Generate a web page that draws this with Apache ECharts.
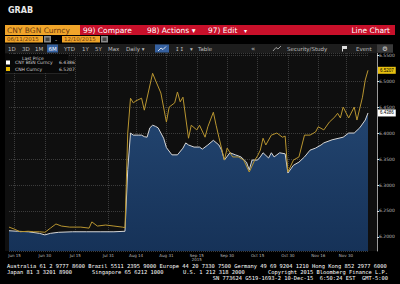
<!DOCTYPE html>
<html><head><meta charset="utf-8">
<script src="https://cdn.jsdelivr.net/npm/echarts@6/dist/echarts.min.js"></script>
<style>html,body{margin:0;padding:0;background:#000;}#c{width:400px;height:284px;}</style>
</head><body><div id="c"></div>
<script>
// Trading-day categories (Jun 11 - Dec 10, 2015)
const dates = ["Jun 11","Jun 12","Jun 15","Jun 16","Jun 17","Jun 18","Jun 19","Jun 22","Jun 23","Jun 24","Jun 25","Jun 26","Jun 29","Jun 30",
"Jul 1","Jul 2","Jul 3","Jul 6","Jul 7","Jul 8","Jul 9","Jul 10","Jul 13","Jul 14","Jul 15","Jul 16","Jul 17","Jul 20","Jul 21","Jul 22","Jul 23","Jul 24","Jul 27","Jul 28","Jul 29","Jul 30","Jul 31",
"Aug 3","Aug 4","Aug 5","Aug 6","Aug 7","Aug 10","Aug 11","Aug 12","Aug 13","Aug 14","Aug 17","Aug 18","Aug 19","Aug 20","Aug 21","Aug 24","Aug 25","Aug 26","Aug 27","Aug 28","Aug 31",
"Sep 1","Sep 2","Sep 3","Sep 4","Sep 7","Sep 8","Sep 9","Sep 10","Sep 11","Sep 14","Sep 15","Sep 16","Sep 17","Sep 18","Sep 21","Sep 22","Sep 23","Sep 24","Sep 25","Sep 28","Sep 29","Sep 30",
"Oct 1","Oct 2","Oct 5","Oct 6","Oct 7","Oct 8","Oct 9","Oct 12","Oct 13","Oct 14","Oct 15","Oct 16","Oct 19","Oct 20","Oct 21","Oct 22","Oct 23","Oct 26","Oct 27","Oct 28","Oct 29","Oct 30",
"Nov 2","Nov 3","Nov 4","Nov 5","Nov 6","Nov 9","Nov 10","Nov 11","Nov 12","Nov 13","Nov 16","Nov 17","Nov 18","Nov 19","Nov 20","Nov 23","Nov 24","Nov 25","Nov 26","Nov 27","Nov 30",
"Dec 1","Dec 2","Dec 3","Dec 4","Dec 7","Dec 8","Dec 9","Dec 10"];

const tickLabels = ["Jun 15","Jun 30","Jul 15","Jul 31","Aug 14","Aug 31","Sep 15","Sep 30","Oct 15","Oct 30","Nov 16","Nov 30"];
const yearLabel = "2015";

// CNY BGN Curncy (white line, blue area)
const cnyBgn = [["Jun 11",6.212],["Jun 16",6.211],["Jun 22",6.210],["Jun 26",6.207],["Jun 30",6.204],["Jul 2",6.207],["Jul 7",6.209],
["Jul 14",6.210],["Jul 21",6.210],["Jul 28",6.210],["Aug 4",6.210],["Aug 10",6.211],["Aug 11",6.330],["Aug 12",6.400],["Aug 13",6.396],
["Aug 14",6.396],["Aug 17",6.396],["Aug 18",6.396],["Aug 19",6.393],["Aug 20",6.392],["Aug 21",6.410],["Aug 24",6.415],["Aug 25",6.413],
["Aug 26",6.410],["Aug 27",6.400],["Aug 28",6.390],["Aug 31",6.372],["Sep 2",6.358],["Sep 4",6.358],["Sep 8",6.371],["Sep 9",6.381],
["Sep 10",6.377],["Sep 14",6.373],["Sep 16",6.373],["Sep 17",6.369],["Sep 21",6.377],["Sep 23",6.386],["Sep 25",6.377],["Sep 28",6.367],
["Sep 29",6.348],["Oct 1",6.362],["Oct 5",6.358],["Oct 7",6.354],["Oct 9",6.344],["Oct 12",6.329],["Oct 13",6.348],["Oct 15",6.348],
["Oct 16",6.354],["Oct 19",6.362],["Oct 21",6.352],["Oct 22",6.362],["Oct 23",6.354],["Oct 27",6.362],["Oct 29",6.360],["Oct 30",6.323],
["Nov 3",6.338],["Nov 5",6.344],["Nov 9",6.354],["Nov 11",6.367],["Nov 13",6.371],["Nov 17",6.377],["Nov 18",6.381],["Nov 23",6.387],
["Nov 27",6.392],["Dec 1",6.400],["Dec 3",6.400],["Dec 7",6.410],["Dec 9",6.425],["Dec 10",6.4386]];

// CNH Curncy (yellow line)
const cnh = [["Jun 11",6.219],["Jun 15",6.215],["Jun 17",6.210],["Jun 22",6.211],["Jun 24",6.210],["Jun 26",6.210],["Jun 30",6.209],
["Jul 2",6.217],["Jul 6",6.225],["Jul 8",6.221],["Jul 13",6.219],["Jul 17",6.219],["Jul 22",6.217],["Jul 23",6.229],["Jul 27",6.221],
["Jul 30",6.223],["Aug 4",6.221],["Aug 7",6.219],["Aug 10",6.218],["Aug 11",6.400],["Aug 12",6.467],["Aug 13",6.458],["Aug 14",6.462],
["Aug 18",6.467],["Aug 19",6.444],["Aug 24",6.515],["Aug 25",6.502],["Aug 27",6.477],["Aug 31",6.421],["Sep 1",6.450],["Sep 3",6.458],
["Sep 4",6.479],["Sep 7",6.460],["Sep 8",6.469],["Sep 10",6.390],["Sep 11",6.415],["Sep 15",6.406],["Sep 16",6.415],["Sep 18",6.392],
["Sep 21",6.412],["Sep 23",6.440],["Sep 24",6.415],["Sep 25",6.392],["Sep 29",6.348],["Sep 30",6.371],["Oct 2",6.354],["Oct 6",6.354],
["Oct 8",6.348],["Oct 12",6.325],["Oct 14",6.348],["Oct 15",6.356],["Oct 16",6.367],["Oct 19",6.390],["Oct 20",6.377],["Oct 22",6.396],
["Oct 26",6.400],["Oct 28",6.392],["Oct 29",6.394],["Oct 30",6.325],["Nov 3",6.348],["Nov 5",6.354],["Nov 9",6.396],["Nov 11",6.396],
["Nov 13",6.402],["Nov 16",6.412],["Nov 18",6.406],["Nov 20",6.421],["Nov 24",6.431],["Nov 25",6.438],["Nov 26",6.429],["Nov 27",6.450],
["Dec 1",6.429],["Dec 3",6.450],["Dec 4",6.425],["Dec 8",6.469],["Dec 9",6.502],["Dec 10",6.5207]];

const seriesNames = ["CNY BGN Curncy","CNH Curncy"];
const lastPrices = {"CNY BGN Curncy":"6.4386","CNH Curncy":"6.5207"};

const chart = echarts.init(document.getElementById('c'), null, {renderer:'svg'});
const T = (x,y,text,size,fill,extra) => Object.assign({type:'text', x:x, y:y, style:Object.assign({text:text, fill:fill, fontSize:size, fontFamily:'DejaVu Sans', verticalAlign:'middle'}, extra||{})}, {z:50});
const R = (x,y,w,h,fill,z) => ({type:'rect', shape:{x:x,y:y,width:w,height:h}, style:{fill:fill}, z:(z==null?40:z)});
const mono = {fontFamily:'DejaVu Sans Mono'};

const graphics = [
  R(5,53,372,198,'#0f0f0f',-10),
  T(8,10,'GRAB',8,'#e8e8e8',{fontWeight:'bold'}),
  R(5,25,75,10,'#f0a52a'),
  T(7,30,'CNY BGN Curncy',7.5,'#6a3a10'),
  R(80,25,315,10,'#c8102a'),
  T(83,30,'99) Compare',7.5,'#ffffff'),
  T(147,30,'98) Actions \u25BE',7.5,'#ffffff'),
  T(208,30,'97) Edit',7.5,'#ffffff'),
  T(244,30,'\u25BE',6,'#ffffff'),
  T(390,30,'Line Chart',7.5,'#ffffff',{align:'right'}),
  R(5,36,38,6.5,'#f0a52a'),
  T(7,39.3,'06/11/2015',5.5,'#6a3a10'),
  R(44,36,7,6.5,'#8a8a8a'), R(45.5,37.5,4,3.5,'#444'),
  T(55,39.3,'-',6,'#cccccc'),
  R(62,36,38,6.5,'#f0a52a'),
  T(64,39.3,'12/10/2015',5.5,'#6a3a10'),
  R(101,36,7,6.5,'#8a8a8a'), R(102.5,37.5,4,3.5,'#444'),
  R(5,44,388,9,'#1d1d1d'),
  R(47,44.5,11,8,'#35609f'),
  R(155,44.5,14,8,'#35609f'),
  R(377,44.5,16,8,'#3a3a3a'),
  T(8,48.5,'1D',5.5,'#bdbdbd'),
  T(22,48.5,'3D',5.5,'#bdbdbd'),
  T(35,48.5,'1M',5.5,'#bdbdbd'),
  T(48.5,48.5,'6M',5.5,'#ffffff'),
  T(64,48.5,'YTD',5.5,'#bdbdbd'),
  T(82,48.5,'1Y',5.5,'#bdbdbd'),
  T(95,48.5,'5Y',5.5,'#bdbdbd'),
  T(108,48.5,'Max',5.5,'#bdbdbd'),
  T(126,48.5,'Daily \u25BE',5.5,'#bdbdbd'),
  {type:'polyline', shape:{points:[[158,51],[161,48],[163,49.5],[166,46.5]]}, style:{stroke:'#ffffff', lineWidth:0.8, fill:'none'}, z:50},
  T(175,48.5,'\u2195\u2195',5.5,'#bdbdbd'),
  T(190,48.5,'\u25BE',5.5,'#bdbdbd'),
  T(198,48.5,'Table',5.5,'#bdbdbd'),
  T(251,48.5,'\u00AB',7,'#bdbdbd'),
  {type:'polyline', shape:{points:[[273,51],[276,47.5],[278,49],[281,46]]}, style:{stroke:'#bdbdbd', lineWidth:0.8, fill:'none'}, z:50},
  T(287,48.5,'Security/Study',5.5,'#bdbdbd'),
  R(342,46,1,5.5,'#dddddd'), R(343,46,4,3,'#dddddd'),
  T(356,48.5,'Event',5.5,'#bdbdbd'),
  T(385,48.5,'\u2699',6.5,'#dddddd',{align:'center'}),
  R(5,54,63,19,'#080808',45),
  R(5,73,63,0.6,'#3a3a3a',45),
  T(22,58,'Last Price',4.5,'#cfcfcf'),
  T(7,265.5,'Australia 61 2 9777 8600 Brazil 5511 2395 9000 Europe 44 20 7330 7500 Germany 49 69 9204 1210 Hong Kong 852 2977 6000',5.4,'#ffffff',mono),
  T(7,271.5,'Japan 81 3 3201 8900',5.4,'#ffffff',mono),
  T(92,271.5,'Singapore 65 6212 1000',5.4,'#ffffff',mono),
  T(183,271.5,'U.S. 1 212 318 2000',5.4,'#ffffff',mono),
  T(388,271.5,'Copyright 2015 Bloomberg Finance L.P.',5.4,'#ffffff',Object.assign({align:'right'},mono)),
  T(388,277.5,'SN 773624 G519-1693-2 10-Dec-15  6:50:24 EST  GMT-5:00',5.4,'#ffffff',Object.assign({align:'right'},mono))
];

const isTick = (i, v) => tickLabels.indexOf(v) >= 0;

const option = {
  backgroundColor: '#000000',
  animation: false,
  graphic: graphics,
  grid: {left: 9, right: 32, top: 53, bottom: 33},
  legend: {
    data: seriesNames, orient: 'vertical', left: 6, top: 60, itemWidth: 4, itemHeight: 4, itemGap: 1.5,
    icon: 'rect', padding: 0, z: 60,
    textStyle: {color: '#cfcfcf', fontSize: 4.5, fontFamily: 'DejaVu Sans',
      rich: {n: {width: 44, fontSize: 4.5, color: '#cfcfcf'}, v: {fontSize: 4.5, color: '#cfcfcf'}}},
    formatter: name => '{n|' + name + '}{v|' + lastPrices[name] + '}'
  },
  xAxis: {
    type: 'category', data: dates, boundaryGap: false,
    axisLine: {show: false}, axisTick: {show: false},
    axisLabel: {interval: isTick, color: '#bdbdbd', fontSize: 4, fontFamily: 'DejaVu Sans', margin: 2, lineHeight: 4.6,
      formatter: v => v === 'Sep 15' ? v + '\n' + yearLabel : v},
    splitLine: {show: true, interval: isTick, lineStyle: {color: '#3c3c3c', type: 'dotted', width: 1}}
  },
  yAxis: {
    type: 'value', position: 'right', offset: 9, min: 6.173, max: 6.554, splitNumber: 8,
    axisLine: {show: true, lineStyle: {color: '#9a9a9a', width: 1}},
    axisTick: {show: true, length: 2, lineStyle: {color: '#e0e0e0'}},
    axisLabel: {showMinLabel: false, showMaxLabel: false, color: '#bdbdbd', fontSize: 4.5, fontFamily: 'DejaVu Sans', margin: 2,
      formatter: v => v.toFixed(4)},
    splitLine: {show: true, lineStyle: {color: '#3c3c3c', type: 'dotted', width: 1}}
  },
  series: [
    {name: seriesNames[0], type: 'line', data: cnyBgn, symbol: 'none', z: 3,
      lineStyle: {color: '#d6d6d6', width: 1}, itemStyle: {color: '#ffffff'},
      areaStyle: {origin: 'start', opacity: 1, color: new echarts.graphic.LinearGradient(0,0,0,1,[{offset:0,color:'#22446f'},{offset:1,color:'#163258'}])},
      endLabel: {show: true, distance: 10, formatter: p => p.value[1].toFixed(4), backgroundColor: '#ffffff', color: '#000', fontSize: 4.5, padding: [1,2]}},
    {name: seriesNames[1], type: 'line', data: cnh, symbol: 'none', z: 4,
      lineStyle: {color: '#b89530', width: 1}, itemStyle: {color: '#e8b800'},
      endLabel: {show: true, distance: 10, formatter: p => p.value[1].toFixed(4), backgroundColor: '#e8c010', color: '#000', fontSize: 4.5, padding: [1,2]}}
  ]
};
chart.setOption(option);
</script></body></html>
